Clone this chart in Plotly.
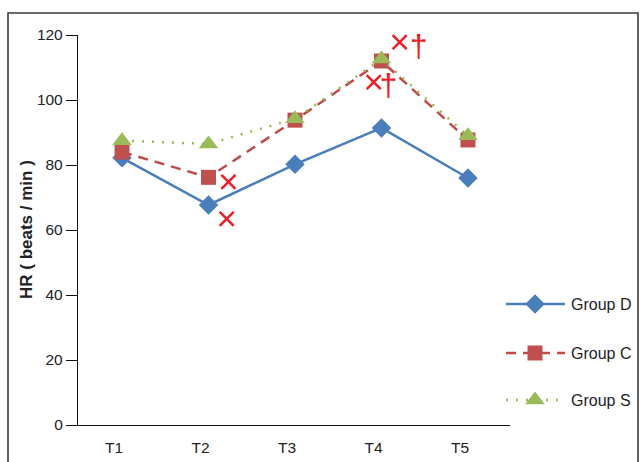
import plotly.graph_objects as go

# Heart rate (beats/min) at five time points for three groups
timepoints = ["T1", "T2", "T3", "T4", "T5"]
group_d = [82.2, 67.7, 80.2, 91.4, 76.0]
group_c = [84.0, 76.2, 93.8, 112.0, 87.7]
group_s = [87.5, 86.5, 94.2, 112.6, 89.0]

y_ticks = [0, 20, 40, 60, 80, 100, 120]

# significance marks: (time index, HR level) for "×" and "†"
cross_pos = [(2.23, 74.8), (2.21, 63.4), (3.91, 105.5), (4.21, 117.8)]
dagger_pos = [(4.08, 103.7), (4.43, 115.7)]

BLUE_LINE, BLUE_MK = "#4A7EBB", "#4A7EBB"
RED_LINE, RED_MK = "#BE4B48", "#C0504D"
GREEN_LINE, GREEN_MK = "#98B954", "#9BBB59"
SIG_RED = "#EE1C25"
FONT = "Liberation Sans, Arial, Helvetica, sans-serif"

x_idx = list(range(1, len(timepoints) + 1))

series = [
    ("Group D", group_d, BLUE_LINE, BLUE_MK, "solid", "diamond", 15),
    ("Group C", group_c, RED_LINE, RED_MK, "10px,7px", "square", 15),
    ("Group S", group_s, GREEN_LINE, GREEN_MK, "2px,8px", "triangle-up", 17),
]

fig = go.Figure()
for name, vals, lc, mc, dash, sym, size in series:
    fig.add_trace(go.Scatter(
        x=x_idx, y=vals, mode="lines+markers", name=name,
        line=dict(color=lc, width=2.5, dash=dash),
        marker=dict(symbol=sym, size=size, color=mc, line=dict(width=0)),
        xaxis="x", yaxis="y", showlegend=False, cliponaxis=False,
    ))

fig.add_trace(go.Scatter(
    x=[p[0] for p in cross_pos], y=[p[1] for p in cross_pos], mode="markers",
    marker=dict(symbol="x-thin", size=14, line=dict(color=SIG_RED, width=2.5)),
    showlegend=False, cliponaxis=False, hoverinfo="skip",
))
fig.add_trace(go.Scatter(
    x=[p[0] for p in dagger_pos], y=[p[1] for p in dagger_pos], mode="text",
    text=["†"] * len(dagger_pos),
    textfont=dict(family=FONT, size=32, color=SIG_RED),
    showlegend=False, cliponaxis=False, hoverinfo="skip",
))

# hand-built legend drawn on a pixel-scaled overlay axis
legend_rows = [(304, series[0]), (353, series[1]), (400, series[2])]
for ypx, (name, _, lc, mc, dash, sym, size) in legend_rows:
    fig.add_trace(go.Scatter(
        x=[506, 565], y=[ypx, ypx], mode="lines",
        line=dict(color=lc, width=2.5, dash=dash),
        xaxis="x2", yaxis="y2", showlegend=False, hoverinfo="skip",
    ))
    fig.add_trace(go.Scatter(
        x=[535], y=[ypx], mode="markers",
        marker=dict(symbol=sym, size=size, color=mc),
        xaxis="x2", yaxis="y2", showlegend=False, hoverinfo="skip",
    ))
    fig.add_annotation(
        x=569, y=ypx, xref="x2", yref="y2", text=name, showarrow=False,
        xanchor="left", yanchor="middle",
        font=dict(family=FONT, size=16, color="#222222"),
    )

W, H = 640, 462
L, R, T, B = 78, 0, 35, 37
pw = W - L - R
ph = H - T - B

# y-axis title placed as a rotated annotation
fig.add_annotation(
    x=(26 - L) / pw, y=0.5, xref="paper", yref="paper",
    text="<b>HR ( beats / min )</b>", textangle=-90, showarrow=False,
    xanchor="center", yanchor="middle",
    font=dict(family=FONT, size=17, color="#222222"),
)

fig.update_layout(
    width=W, height=H,
    margin=dict(l=L, r=R, t=T, b=B),
    paper_bgcolor="white", plot_bgcolor="white",
    font=dict(family=FONT, size=15, color="#222222"),
    xaxis=dict(
        domain=[0, 432 / pw], range=[0.491, 5.486],
        tickmode="array", tickvals=x_idx, ticktext=timepoints,
        ticks="", showgrid=False, zeroline=False,
        showline=True, linecolor="#111111", linewidth=1.3,
        ticklabelshift=-8, ticklabelstandoff=8,
        tickfont=dict(size=15.5),
    ),
    yaxis=dict(
        range=[0, 120], tickvals=y_ticks,
        ticks="outside", ticklen=11, tickcolor="#111111", tickwidth=1.1,
        showgrid=False, zeroline=False,
        showline=True, linecolor="#111111", linewidth=1.3,
        tickfont=dict(size=15.5),
    ),
    xaxis2=dict(domain=[(500 - L) / pw, 1], range=[500, 640], visible=False, fixedrange=True),
    yaxis2=dict(anchor="x2", domain=[0, 1], range=[H - B, T], visible=False, fixedrange=True),
    shapes=[dict(
        type="rect", xref="paper", yref="paper",
        x0=(8 - L) / pw, x1=(638 - L) / pw,
        y0=-0.3, y1=(H - B - 13) / ph,
        line=dict(color="#3A3A3A", width=1.6), fillcolor="rgba(0,0,0,0)",
        layer="above",
    )],
)

fig.write_html("out.html")
